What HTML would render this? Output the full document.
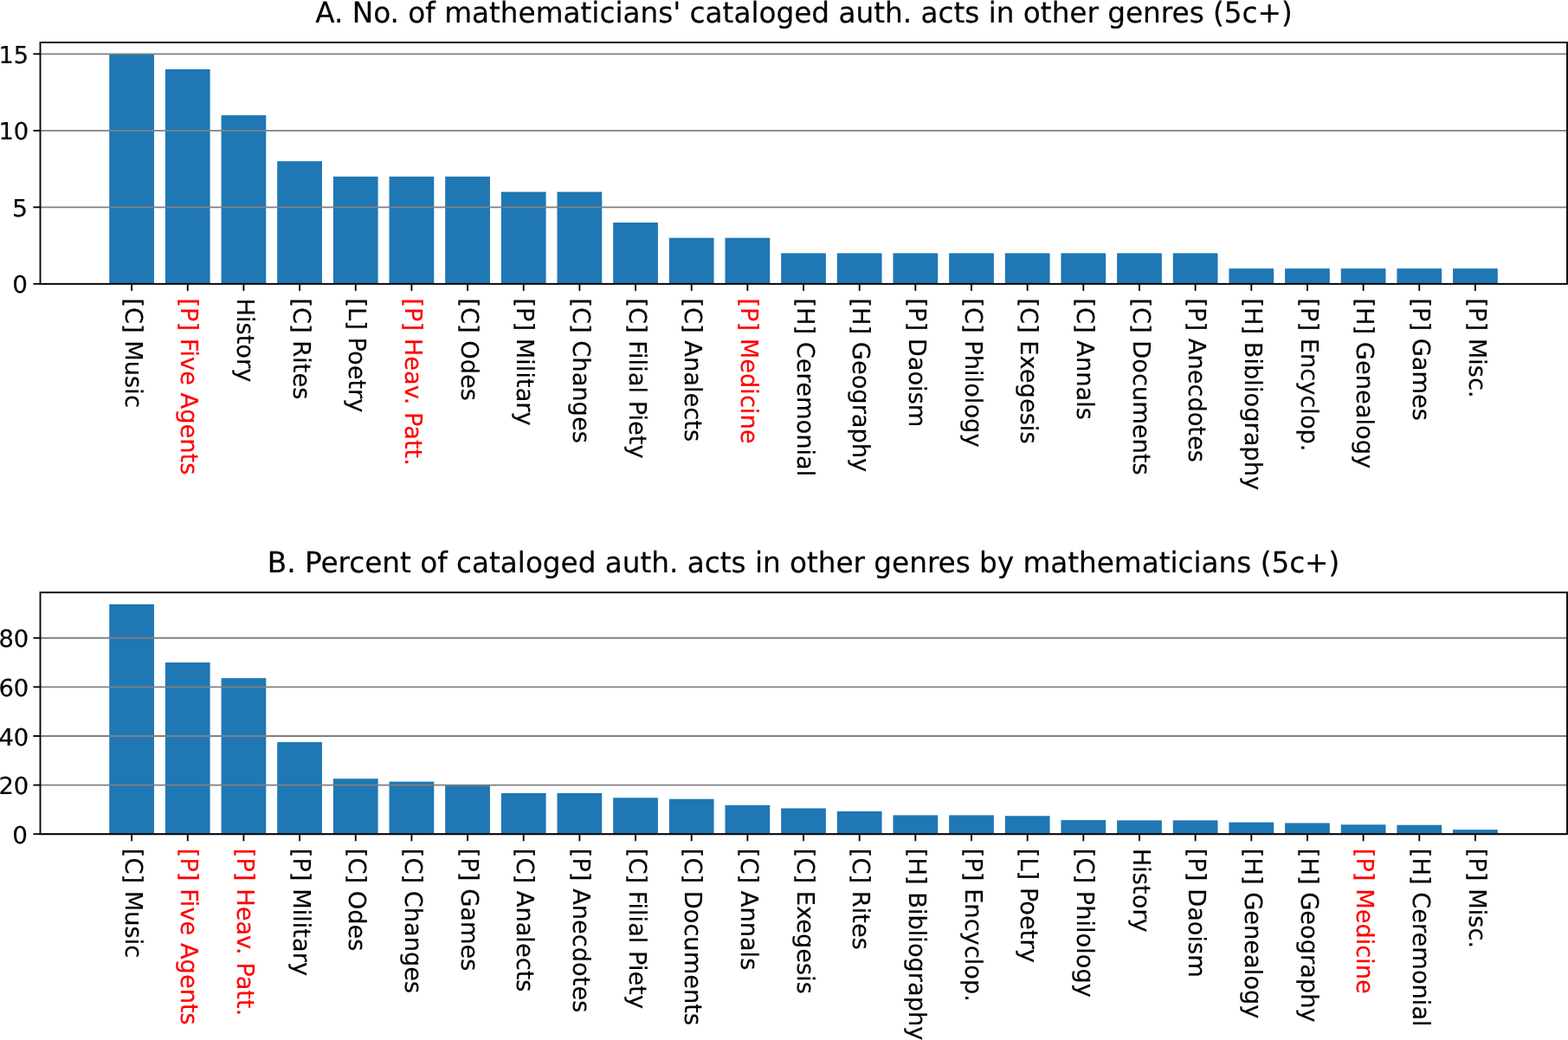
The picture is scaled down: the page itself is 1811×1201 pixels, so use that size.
<!DOCTYPE html>
<html lang="en"><head><meta charset="utf-8"><title>Mathematicians' cataloged authorial acts in other genres</title>
<style>html,body{margin:0;padding:0;background:#fff;}body{width:1811px;height:1201px;overflow:hidden;}svg{display:block;}text{font-family:"DejaVu Sans","Liberation Sans",sans-serif;text-rendering:geometricPrecision;stroke:#000;stroke-width:0.2px;stroke-linejoin:round;}.t{font-size:27.45px;}.h{font-size:32.7px;}.r{fill:#f00;stroke:#f00;}</style></head><body>
<svg width="1811" height="1201" viewBox="0 0 1811 1201">
<rect width="1811" height="1201" fill="#fff"/>
<g>
<g fill="#1f77b4">
<rect x="126.22" y="62.32" width="51.75" height="265.48"/>
<rect x="190.88" y="80.02" width="51.75" height="247.78"/>
<rect x="255.54" y="133.12" width="51.75" height="194.68"/>
<rect x="320.2" y="186.21" width="51.75" height="141.59"/>
<rect x="384.87" y="203.91" width="51.75" height="123.89"/>
<rect x="449.52" y="203.91" width="51.75" height="123.89"/>
<rect x="514.18" y="203.91" width="51.75" height="123.89"/>
<rect x="578.85" y="221.61" width="51.75" height="106.19"/>
<rect x="643.5" y="221.61" width="51.75" height="106.19"/>
<rect x="708.16" y="257.01" width="51.75" height="70.79"/>
<rect x="772.82" y="274.7" width="51.75" height="53.1"/>
<rect x="837.49" y="274.7" width="51.75" height="53.1"/>
<rect x="902.14" y="292.4" width="51.75" height="35.4"/>
<rect x="966.8" y="292.4" width="51.75" height="35.4"/>
<rect x="1031.46" y="292.4" width="51.75" height="35.4"/>
<rect x="1096.12" y="292.4" width="51.75" height="35.4"/>
<rect x="1160.78" y="292.4" width="51.75" height="35.4"/>
<rect x="1225.44" y="292.4" width="51.75" height="35.4"/>
<rect x="1290.1" y="292.4" width="51.75" height="35.4"/>
<rect x="1354.76" y="292.4" width="51.75" height="35.4"/>
<rect x="1419.42" y="310.1" width="51.75" height="17.7"/>
<rect x="1484.08" y="310.1" width="51.75" height="17.7"/>
<rect x="1548.74" y="310.1" width="51.75" height="17.7"/>
<rect x="1613.4" y="310.1" width="51.75" height="17.7"/>
<rect x="1678.06" y="310.1" width="51.75" height="17.7"/>
</g>
<g stroke="#808080" stroke-width="1.85">
<line x1="46.5" y1="327.8" x2="1810" y2="327.8"/>
<line x1="46.5" y1="239.31" x2="1810" y2="239.31"/>
<line x1="46.5" y1="150.82" x2="1810" y2="150.82"/>
<line x1="46.5" y1="62.32" x2="1810" y2="62.32"/>
</g>
<g stroke="#000" stroke-width="1.85">
<line x1="38.4" y1="327.8" x2="46.5" y2="327.8"/>
<line x1="38.4" y1="239.31" x2="46.5" y2="239.31"/>
<line x1="38.4" y1="150.82" x2="46.5" y2="150.82"/>
<line x1="38.4" y1="62.32" x2="46.5" y2="62.32"/>
<line x1="152.1" y1="327.8" x2="152.1" y2="335.9"/>
<line x1="216.76" y1="327.8" x2="216.76" y2="335.9"/>
<line x1="281.42" y1="327.8" x2="281.42" y2="335.9"/>
<line x1="346.08" y1="327.8" x2="346.08" y2="335.9"/>
<line x1="410.74" y1="327.8" x2="410.74" y2="335.9"/>
<line x1="475.4" y1="327.8" x2="475.4" y2="335.9"/>
<line x1="540.06" y1="327.8" x2="540.06" y2="335.9"/>
<line x1="604.72" y1="327.8" x2="604.72" y2="335.9"/>
<line x1="669.38" y1="327.8" x2="669.38" y2="335.9"/>
<line x1="734.04" y1="327.8" x2="734.04" y2="335.9"/>
<line x1="798.7" y1="327.8" x2="798.7" y2="335.9"/>
<line x1="863.36" y1="327.8" x2="863.36" y2="335.9"/>
<line x1="928.02" y1="327.8" x2="928.02" y2="335.9"/>
<line x1="992.68" y1="327.8" x2="992.68" y2="335.9"/>
<line x1="1057.34" y1="327.8" x2="1057.34" y2="335.9"/>
<line x1="1122" y1="327.8" x2="1122" y2="335.9"/>
<line x1="1186.66" y1="327.8" x2="1186.66" y2="335.9"/>
<line x1="1251.32" y1="327.8" x2="1251.32" y2="335.9"/>
<line x1="1315.98" y1="327.8" x2="1315.98" y2="335.9"/>
<line x1="1380.64" y1="327.8" x2="1380.64" y2="335.9"/>
<line x1="1445.3" y1="327.8" x2="1445.3" y2="335.9"/>
<line x1="1509.96" y1="327.8" x2="1509.96" y2="335.9"/>
<line x1="1574.62" y1="327.8" x2="1574.62" y2="335.9"/>
<line x1="1639.28" y1="327.8" x2="1639.28" y2="335.9"/>
<line x1="1703.94" y1="327.8" x2="1703.94" y2="335.9"/>
</g>
<rect x="46.5" y="49.05" width="1763.5" height="278.75" fill="none" stroke="#000" stroke-width="1.85"/>
<text class="t" transform="translate(14.28,338.4) scale(1.014,1)">0</text>
<text class="t" transform="translate(14.08,249.91) scale(1.033,1)">5</text>
<text class="t" transform="translate(-1.59,161.42) scale(0.998,1)">10</text>
<text class="t" transform="translate(-1.47,72.92) scale(0.989,1)">15</text>
<text class="t" transform="translate(144.7,344.4) rotate(90) scale(0.993,1)">[C] Music</text>
<text class="t r" transform="translate(209.36,344.4) rotate(90) scale(0.993,1)">[P] Five Agents</text>
<text class="t" transform="translate(274.02,344.4) rotate(90) scale(0.993,1)">History</text>
<text class="t" transform="translate(338.68,344.4) rotate(90) scale(0.993,1)">[C] Rites</text>
<text class="t" transform="translate(403.34,344.4) rotate(90) scale(0.993,1)">[L] Poetry</text>
<text class="t r" transform="translate(468,344.4) rotate(90) scale(0.993,1)">[P] Heav. Patt.</text>
<text class="t" transform="translate(532.66,344.4) rotate(90) scale(0.993,1)">[C] Odes</text>
<text class="t" transform="translate(597.32,344.4) rotate(90) scale(0.993,1)">[P] Military</text>
<text class="t" transform="translate(661.98,344.4) rotate(90) scale(0.993,1)">[C] Changes</text>
<text class="t" transform="translate(726.64,344.4) rotate(90) scale(0.993,1)">[C] Filial Piety</text>
<text class="t" transform="translate(791.3,344.4) rotate(90) scale(0.993,1)">[C] Analects</text>
<text class="t r" transform="translate(855.96,344.4) rotate(90) scale(0.993,1)">[P] Medicine</text>
<text class="t" transform="translate(920.62,344.4) rotate(90) scale(0.993,1)">[H] Ceremonial</text>
<text class="t" transform="translate(985.28,344.4) rotate(90) scale(0.993,1)">[H] Geography</text>
<text class="t" transform="translate(1049.94,344.4) rotate(90) scale(0.993,1)">[P] Daoism</text>
<text class="t" transform="translate(1114.6,344.4) rotate(90) scale(0.993,1)">[C] Philology</text>
<text class="t" transform="translate(1179.26,344.4) rotate(90) scale(0.993,1)">[C] Exegesis</text>
<text class="t" transform="translate(1243.92,344.4) rotate(90) scale(0.993,1)">[C] Annals</text>
<text class="t" transform="translate(1308.58,344.4) rotate(90) scale(0.993,1)">[C] Documents</text>
<text class="t" transform="translate(1373.24,344.4) rotate(90) scale(0.993,1)">[P] Anecdotes</text>
<text class="t" transform="translate(1437.9,344.4) rotate(90) scale(0.993,1)">[H] Bibliography</text>
<text class="t" transform="translate(1502.56,344.4) rotate(90) scale(0.993,1)">[P] Encyclop.</text>
<text class="t" transform="translate(1567.22,344.4) rotate(90) scale(0.993,1)">[H] Genealogy</text>
<text class="t" transform="translate(1631.88,344.4) rotate(90) scale(0.993,1)">[P] Games</text>
<text class="t" transform="translate(1696.54,344.4) rotate(90) scale(0.993,1)">[P] Misc.</text>
<text class="h" transform="translate(364.14,25.8) scale(0.9996,1.015)">A. No. of mathematicians&#39; cataloged auth. acts in other genres (5c+)</text>
</g>
<g>
<g fill="#1f77b4">
<rect x="126.22" y="697.79" width="51.75" height="265.41"/>
<rect x="190.88" y="765.03" width="51.75" height="198.17"/>
<rect x="255.54" y="783.15" width="51.75" height="180.05"/>
<rect x="320.2" y="857.04" width="51.75" height="106.16"/>
<rect x="384.87" y="899.22" width="51.75" height="63.98"/>
<rect x="449.52" y="902.62" width="51.75" height="60.58"/>
<rect x="514.18" y="906.58" width="51.75" height="56.62"/>
<rect x="578.85" y="915.92" width="51.75" height="47.28"/>
<rect x="643.5" y="915.92" width="51.75" height="47.28"/>
<rect x="708.16" y="921.3" width="51.75" height="41.9"/>
<rect x="772.82" y="922.72" width="51.75" height="40.48"/>
<rect x="837.49" y="929.79" width="51.75" height="33.41"/>
<rect x="902.14" y="933.47" width="51.75" height="29.73"/>
<rect x="966.8" y="936.87" width="51.75" height="26.33"/>
<rect x="1031.46" y="941.4" width="51.75" height="21.8"/>
<rect x="1096.12" y="941.4" width="51.75" height="21.8"/>
<rect x="1160.78" y="942.25" width="51.75" height="20.95"/>
<rect x="1225.44" y="947.06" width="51.75" height="16.14"/>
<rect x="1290.1" y="947.35" width="51.75" height="15.85"/>
<rect x="1354.76" y="947.35" width="51.75" height="15.85"/>
<rect x="1419.42" y="949.61" width="51.75" height="13.59"/>
<rect x="1484.08" y="950.46" width="51.75" height="12.74"/>
<rect x="1548.74" y="952.3" width="51.75" height="10.9"/>
<rect x="1613.4" y="952.73" width="51.75" height="10.47"/>
<rect x="1678.06" y="958.1" width="51.75" height="5.1"/>
</g>
<g stroke="#808080" stroke-width="1.85">
<line x1="46.5" y1="963.2" x2="1810" y2="963.2"/>
<line x1="46.5" y1="906.58" x2="1810" y2="906.58"/>
<line x1="46.5" y1="849.96" x2="1810" y2="849.96"/>
<line x1="46.5" y1="793.34" x2="1810" y2="793.34"/>
<line x1="46.5" y1="736.72" x2="1810" y2="736.72"/>
</g>
<g stroke="#000" stroke-width="1.85">
<line x1="38.4" y1="963.2" x2="46.5" y2="963.2"/>
<line x1="38.4" y1="906.58" x2="46.5" y2="906.58"/>
<line x1="38.4" y1="849.96" x2="46.5" y2="849.96"/>
<line x1="38.4" y1="793.34" x2="46.5" y2="793.34"/>
<line x1="38.4" y1="736.72" x2="46.5" y2="736.72"/>
<line x1="152.1" y1="963.2" x2="152.1" y2="971.3"/>
<line x1="216.76" y1="963.2" x2="216.76" y2="971.3"/>
<line x1="281.42" y1="963.2" x2="281.42" y2="971.3"/>
<line x1="346.08" y1="963.2" x2="346.08" y2="971.3"/>
<line x1="410.74" y1="963.2" x2="410.74" y2="971.3"/>
<line x1="475.4" y1="963.2" x2="475.4" y2="971.3"/>
<line x1="540.06" y1="963.2" x2="540.06" y2="971.3"/>
<line x1="604.72" y1="963.2" x2="604.72" y2="971.3"/>
<line x1="669.38" y1="963.2" x2="669.38" y2="971.3"/>
<line x1="734.04" y1="963.2" x2="734.04" y2="971.3"/>
<line x1="798.7" y1="963.2" x2="798.7" y2="971.3"/>
<line x1="863.36" y1="963.2" x2="863.36" y2="971.3"/>
<line x1="928.02" y1="963.2" x2="928.02" y2="971.3"/>
<line x1="992.68" y1="963.2" x2="992.68" y2="971.3"/>
<line x1="1057.34" y1="963.2" x2="1057.34" y2="971.3"/>
<line x1="1122" y1="963.2" x2="1122" y2="971.3"/>
<line x1="1186.66" y1="963.2" x2="1186.66" y2="971.3"/>
<line x1="1251.32" y1="963.2" x2="1251.32" y2="971.3"/>
<line x1="1315.98" y1="963.2" x2="1315.98" y2="971.3"/>
<line x1="1380.64" y1="963.2" x2="1380.64" y2="971.3"/>
<line x1="1445.3" y1="963.2" x2="1445.3" y2="971.3"/>
<line x1="1509.96" y1="963.2" x2="1509.96" y2="971.3"/>
<line x1="1574.62" y1="963.2" x2="1574.62" y2="971.3"/>
<line x1="1639.28" y1="963.2" x2="1639.28" y2="971.3"/>
<line x1="1703.94" y1="963.2" x2="1703.94" y2="971.3"/>
</g>
<rect x="46.5" y="684.2" width="1763.5" height="279" fill="none" stroke="#000" stroke-width="1.85"/>
<text class="t" transform="translate(14.28,973.8) scale(1.014,1)">0</text>
<text class="t" transform="translate(-1.59,917.18) scale(0.998,1)">20</text>
<text class="t" transform="translate(-1.59,860.56) scale(0.998,1)">40</text>
<text class="t" transform="translate(-1.59,803.94) scale(0.998,1)">60</text>
<text class="t" transform="translate(-1.59,747.32) scale(0.998,1)">80</text>
<text class="t" transform="translate(144.7,979.8) rotate(90) scale(0.993,1)">[C] Music</text>
<text class="t r" transform="translate(209.36,979.8) rotate(90) scale(0.993,1)">[P] Five Agents</text>
<text class="t r" transform="translate(274.02,979.8) rotate(90) scale(0.993,1)">[P] Heav. Patt.</text>
<text class="t" transform="translate(338.68,979.8) rotate(90) scale(0.993,1)">[P] Military</text>
<text class="t" transform="translate(403.34,979.8) rotate(90) scale(0.993,1)">[C] Odes</text>
<text class="t" transform="translate(468,979.8) rotate(90) scale(0.993,1)">[C] Changes</text>
<text class="t" transform="translate(532.66,979.8) rotate(90) scale(0.993,1)">[P] Games</text>
<text class="t" transform="translate(597.32,979.8) rotate(90) scale(0.993,1)">[C] Analects</text>
<text class="t" transform="translate(661.98,979.8) rotate(90) scale(0.993,1)">[P] Anecdotes</text>
<text class="t" transform="translate(726.64,979.8) rotate(90) scale(0.993,1)">[C] Filial Piety</text>
<text class="t" transform="translate(791.3,979.8) rotate(90) scale(0.993,1)">[C] Documents</text>
<text class="t" transform="translate(855.96,979.8) rotate(90) scale(0.993,1)">[C] Annals</text>
<text class="t" transform="translate(920.62,979.8) rotate(90) scale(0.993,1)">[C] Exegesis</text>
<text class="t" transform="translate(985.28,979.8) rotate(90) scale(0.993,1)">[C] Rites</text>
<text class="t" transform="translate(1049.94,979.8) rotate(90) scale(0.993,1)">[H] Bibliography</text>
<text class="t" transform="translate(1114.6,979.8) rotate(90) scale(0.993,1)">[P] Encyclop.</text>
<text class="t" transform="translate(1179.26,979.8) rotate(90) scale(0.993,1)">[L] Poetry</text>
<text class="t" transform="translate(1243.92,979.8) rotate(90) scale(0.993,1)">[C] Philology</text>
<text class="t" transform="translate(1308.58,979.8) rotate(90) scale(0.993,1)">History</text>
<text class="t" transform="translate(1373.24,979.8) rotate(90) scale(0.993,1)">[P] Daoism</text>
<text class="t" transform="translate(1437.9,979.8) rotate(90) scale(0.993,1)">[H] Genealogy</text>
<text class="t" transform="translate(1502.56,979.8) rotate(90) scale(0.993,1)">[H] Geography</text>
<text class="t r" transform="translate(1567.22,979.8) rotate(90) scale(0.993,1)">[P] Medicine</text>
<text class="t" transform="translate(1631.88,979.8) rotate(90) scale(0.993,1)">[H] Ceremonial</text>
<text class="t" transform="translate(1696.54,979.8) rotate(90) scale(0.993,1)">[P] Misc.</text>
<text class="h" transform="translate(308.84,661.1) scale(0.9988,1.015)">B. Percent of cataloged auth. acts in other genres by mathematicians (5c+)</text>
</g>
</svg></body></html>
